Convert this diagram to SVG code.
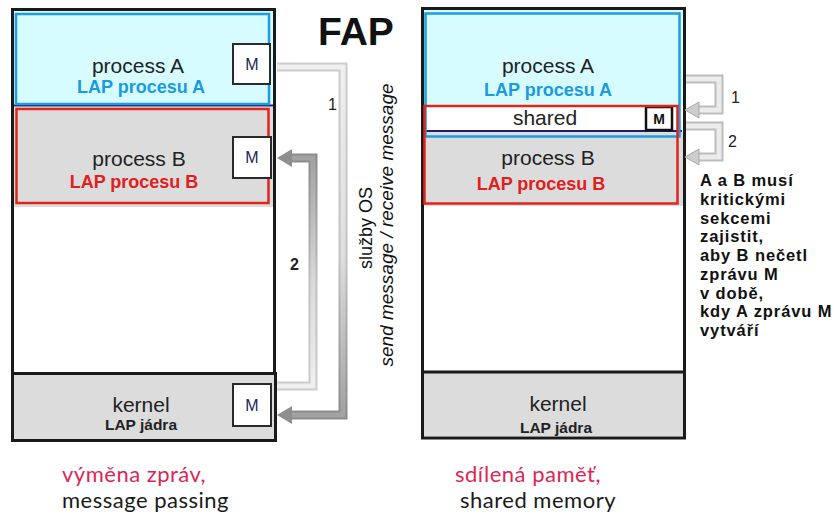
<svg xmlns="http://www.w3.org/2000/svg" width="836" height="517" viewBox="0 0 836 517">
  <defs>
    <style>
      .sans { font-family: "Liberation Sans", Arial, sans-serif; }
      .frame { fill: #ffffff; stroke: #1a1a1a; stroke-width: 3; }
      .cyan { fill: #d6fcff; }
      .grey { fill: #dcdcdc; }
      .lap-a { fill: none; stroke: #1d9ce0; stroke-width: 2.5; }
      .lap-b { fill: none; stroke: #e1251b; stroke-width: 2.5; }
      .navy { stroke: #231a6e; stroke-width: 2; }
      .mbox { fill: #ffffff; stroke: #2a2a2a; stroke-width: 2; }
      .proc { font-size: 21px; fill: #222222; text-anchor: middle; }
      .lapA { font-size: 18px; font-weight: bold; fill: #1a9be0; text-anchor: middle; }
      .lapB { font-size: 18px; font-weight: bold; fill: #e0201e; text-anchor: middle; }
      .lapK { font-size: 15.5px; font-weight: bold; fill: #222222; text-anchor: middle; }
      .m { font-size: 16px; fill: #1b2a55; text-anchor: middle; }
      .num { font-size: 16px; fill: #222222; }
      .note { font-size: 16.5px; font-weight: bold; fill: #111111; letter-spacing: 0.9px; }
      .cap { font-family: Lato, "Open Sans", sans-serif; font-size: 22px; letter-spacing: 0.5px; }
      .band-out { fill: none; stroke-width: 9; }
      .band-in { fill: none; stroke-width: 5; }
    </style>
    <!-- send: light at the tail (top), dark at the head (bottom) -->
    <linearGradient id="sendOut" gradientUnits="userSpaceOnUse" x1="0" y1="67" x2="0" y2="415">
      <stop offset="0" stop-color="#cccccc"/>
      <stop offset="0.55" stop-color="#c2c2c2"/>
      <stop offset="1" stop-color="#8c8c8c"/>
    </linearGradient>
    <linearGradient id="sendIn" gradientUnits="userSpaceOnUse" x1="0" y1="67" x2="0" y2="415">
      <stop offset="0" stop-color="#efefef"/>
      <stop offset="0.55" stop-color="#dedede"/>
      <stop offset="1" stop-color="#a2a2a2"/>
    </linearGradient>
    <!-- receive: light at the tail (bottom), dark at the head (top) -->
    <linearGradient id="recvOut" gradientUnits="userSpaceOnUse" x1="0" y1="386" x2="0" y2="158">
      <stop offset="0" stop-color="#cccccc"/>
      <stop offset="0.45" stop-color="#c0c0c0"/>
      <stop offset="1" stop-color="#8c8c8c"/>
    </linearGradient>
    <linearGradient id="recvIn" gradientUnits="userSpaceOnUse" x1="0" y1="386" x2="0" y2="158">
      <stop offset="0" stop-color="#efefef"/>
      <stop offset="0.45" stop-color="#dadada"/>
      <stop offset="1" stop-color="#a2a2a2"/>
    </linearGradient>
  </defs>

  <rect width="836" height="517" fill="#ffffff"/>

  <!-- ===== message passing ===== -->
  <g id="mp-frame">
    <rect class="frame" x="12.5" y="9.5" width="262" height="431"/>
  </g>

  <g id="mp-process-a">
    <rect class="cyan" x="14" y="11" width="259" height="94"/>
    <line class="navy" x1="14" y1="105.5" x2="273" y2="105.5"/>
    <rect class="lap-a" x="16" y="14" width="253" height="90"/>
    <text class="sans proc" x="138" y="73">process A</text>
    <text class="sans lapA" x="141" y="93">LAP procesu A</text>
    <rect class="mbox" x="233" y="44" width="37" height="40"/>
    <text class="sans m" x="252" y="70">M</text>
  </g>

  <g id="mp-process-b">
    <rect class="grey" x="14" y="107" width="259" height="100"/>
    <rect class="lap-b" x="16.5" y="109" width="252" height="94"/>
    <text class="sans proc" x="139" y="166">process B</text>
    <text class="sans lapB" x="134" y="188">LAP procesu B</text>
    <rect class="mbox" x="233" y="137" width="38" height="41"/>
    <text class="sans m" x="252" y="163">M</text>
  </g>

  <g id="mp-kernel">
    <rect class="frame" x="12.5" y="373.5" width="263" height="67" style="fill:#dcdcdc"/>
    <text class="sans proc" x="141" y="412">kernel</text>
    <text class="sans lapK" x="141" y="430">LAP jádra</text>
    <rect class="mbox" x="233" y="384" width="38" height="42"/>
    <text class="sans m" x="252" y="411">M</text>
  </g>

  <g id="mp-title">
    <text class="sans" x="318" y="45" font-size="39" font-weight="bold" fill="#111111">FAP</text>
  </g>

  <g id="mp-services">
    <text class="sans" transform="translate(372,228) rotate(-90)" font-size="18" fill="#111111" text-anchor="middle">služby OS</text>
    <text class="sans" transform="translate(393,225) rotate(-90)" font-size="19" font-style="italic" fill="#111111" text-anchor="middle">send message / receive message</text>
  </g>

  <g id="mp-caption">
    <text class="cap" x="62" y="482" fill="#dc2655">výměna zpráv,</text>
    <text class="cap" x="62" y="508" fill="#1a1a1a">message passing</text>
  </g>

  <!-- ===== shared memory ===== -->
  <g id="sm-frame">
    <rect class="frame" x="422.5" y="8.5" width="262" height="429.5"/>
  </g>

  <g id="sm-process-a">
    <rect class="cyan" x="424" y="10" width="259" height="96"/>
  </g>

  <g id="sm-process-b">
    <rect class="grey" x="424" y="132" width="259" height="74"/>
  </g>

  <g id="sm-shared">
    <line class="navy" x1="424" y1="131" x2="682" y2="131"/>
    <text class="sans proc" x="545" y="125">shared</text>
    <rect x="646" y="107" width="26" height="23" fill="#ffffff" stroke="#111111" stroke-width="2.5"/>
    <text class="sans" x="659" y="124" font-size="14" font-weight="bold" fill="#111111" text-anchor="middle">M</text>
  </g>

  <g id="sm-lap-borders">
    <rect class="lap-a" x="425.5" y="13.5" width="254" height="123"/>
    <rect class="lap-b" x="424.5" y="106" width="253" height="97.5"/>
    <text class="sans proc" x="548" y="73">process A</text>
    <text class="sans lapA" x="548" y="96">LAP procesu A</text>
    <text class="sans proc" x="548" y="165">process B</text>
    <text class="sans lapB" x="541" y="190">LAP procesu B</text>
  </g>

  <g id="sm-kernel">
    <rect class="grey" x="424" y="373" width="259" height="63"/>
    <line x1="423" y1="372" x2="684" y2="372" stroke="#1a1a1a" stroke-width="3"/>
    <text class="sans proc" x="558" y="411">kernel</text>
    <text class="sans lapK" x="556" y="433">LAP jádra</text>
  </g>

  <g id="sm-note">
    <text class="sans note" x="700" y="186">A a B musí</text>
    <text class="sans note" x="700" y="204.75">kritickými</text>
    <text class="sans note" x="700" y="223.5">sekcemi</text>
    <text class="sans note" x="700" y="242.25">zajistit,</text>
    <text class="sans note" x="700" y="261">aby B nečetl</text>
    <text class="sans note" x="700" y="279.75">zprávu M</text>
    <text class="sans note" x="700" y="298.5">v době,</text>
    <text class="sans note" x="700" y="317.25">kdy A zprávu M</text>
    <text class="sans note" x="700" y="336">vytváří</text>
  </g>

  <g id="sm-caption">
    <text class="cap" x="455" y="482" fill="#dc2655">sdílená paměť,</text>
    <text class="cap" x="460" y="508" fill="#1a1a1a">shared memory</text>
  </g>

  <!-- ===== connectors ===== -->
  <g id="connectors">
    <!-- 1: send message, process A to kernel -->
    <path class="band-out" stroke="url(#sendOut)" d="M277 67 H343 V415 H290"/>
    <path class="band-in" stroke="url(#sendIn)" d="M277 67 H343 V415 H290"/>
    <polygon points="277,415 292,406 292,424" fill="#8f8f8f"/>
    <text class="sans num" x="328" y="110">1</text>

    <!-- 2: receive message, kernel to process B -->
    <path class="band-out" stroke="url(#recvOut)" d="M277 386 H313 V158 H290"/>
    <path class="band-in" stroke="url(#recvIn)" d="M277 386 H313 V158 H290"/>
    <polygon points="277,158 292,149 292,167" fill="#8f8f8f"/>
    <text class="sans num" x="290" y="270" font-weight="bold" fill="#2a2a48">2</text>

    <!-- shared memory: 1 write, 2 read -->
    <path class="band-out" stroke="#bdbdbd" d="M686 79 H719 V110 H697"/>
    <path class="band-in" stroke="#ececec" d="M686 79 H719 V110 H697"/>
    <polygon points="685,110 699,102 699,118" fill="#cdcdcd" stroke="#a8a8a8" stroke-width="1"/>
    <text class="sans num" x="731" y="103" fill="#3a2a10">1</text>

    <path class="band-out" stroke="#bdbdbd" d="M686 126 H719 V157 H697"/>
    <path class="band-in" stroke="#ececec" d="M686 126 H719 V157 H697"/>
    <polygon points="685,157 699,149 699,165" fill="#cdcdcd" stroke="#a8a8a8" stroke-width="1"/>
    <text class="sans num" x="728" y="147" fill="#1f2a50">2</text>
  </g>
</svg>
